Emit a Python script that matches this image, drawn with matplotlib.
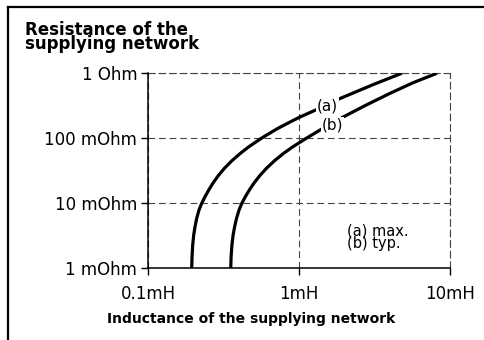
import matplotlib
matplotlib.use("Agg")
import matplotlib.pyplot as plt
from matplotlib.lines import Line2D

# ---- data (L in mH, R in Ohm) ----
curve_a_L = [0.194, 0.1950, 0.1969, 0.2000, 0.2040, 0.2093, 0.2169, 0.2259, 0.2377, 0.2527,
             0.2698, 0.2912, 0.3191, 0.3573, 0.4056, 0.4604, 0.5649, 0.7102, 0.870, 1.003,
             1.308, 1.867, 3.105, 4.787]
curve_a_R = [0.001, 0.001509, 0.002283, 0.003253, 0.004365, 0.005877, 0.007884, 0.01, 0.01264, 0.01631,
             0.02083, 0.02668, 0.03443, 0.04491, 0.05815, 0.07321, 0.1011, 0.139, 0.1781, 0.2104,
             0.2773, 0.4095, 0.6724, 1.0]
curve_b_L = [0.3519, 0.3540, 0.3584, 0.3650, 0.3735, 0.3845, 0.3995, 0.4169, 0.4398, 0.4697,
             0.5046, 0.5488, 0.6061, 0.6847, 0.7844, 0.9014, 1.123, 1.413, 1.964, 2.735,
             4.007, 5.692, 8.175]
curve_b_R = [0.001, 0.001509, 0.002283, 0.003253, 0.004365, 0.005877, 0.007884, 0.01, 0.01264, 0.01631,
             0.02083, 0.02668, 0.03443, 0.04491, 0.05815, 0.07321, 0.1011, 0.139, 0.2134, 0.3184,
             0.4924, 0.7167, 1.0]

x_ticks = [0.1, 1, 10]
x_tick_labels = ["0.1mH", "1mH", "10mH"]
y_ticks = [0.001, 0.01, 0.1, 1]
y_tick_labels = ["1 mOhm", "10 mOhm", "100 mOhm", "1 Ohm"]

W, H = 485, 340
fig = plt.figure(figsize=(W / 100, H / 100), dpi=100)
plt.rcParams['font.family'] = ['DejaVu Sans']

ax = fig.add_axes([148.3 / W, 1 - 268.3 / H, (450 - 148.3) / W, (268.3 - 73.3) / H])
ax.set_xscale('log')
ax.set_yscale('log')
ax.set_xlim(0.1, 10)
ax.set_ylim(0.001, 1)

ax.plot(curve_a_L, curve_a_R, color='black', lw=2.3, solid_capstyle='butt',
        solid_joinstyle='round', zorder=3)
ax.plot(curve_b_L, curve_b_R, color='black', lw=2.3, solid_capstyle='butt',
        solid_joinstyle='round', zorder=3)

ax.set_xticks(x_ticks)
ax.set_xticklabels(x_tick_labels)
ax.set_yticks(y_ticks)
ax.set_yticklabels(y_tick_labels)
ax.minorticks_off()
ax.tick_params(axis='both', direction='out', length=5, width=1, color='black',
               labelsize=12, labelcolor='black')
ax.tick_params(axis='y', pad=3)
ax.tick_params(axis='x', pad=7)

grid_dash = (6, 3.5)
ax.grid(True, which='major', color='#444444', lw=0.8, dashes=grid_dash)
for s in ['top', 'right']:
    ax.spines[s].set_color('#444444')
    ax.spines[s].set_linewidth(0.8)
    ax.spines[s].set_linestyle((0, grid_dash))
for s in ['left', 'bottom']:
    ax.spines[s].set_linewidth(1.1)
    ax.spines[s].set_color('black')
    ax.spines[s].set_zorder(5)

bb = dict(boxstyle='square,pad=0.06', fc='white', ec='none')
ax.text(1.538, 0.3175, "(a)", fontsize=11, ha='center', va='center', bbox=bb, zorder=4)
ax.text(1.670, 0.1603, "(b)", fontsize=11, ha='center', va='center', bbox=bb, zorder=4)

fig.text(346.7 / W, 1 - 248 / H, "(a) max.\n(b) typ.", fontsize=10.5, ha='left',
         va='baseline', linespacing=0.78)

fig.text(25 / W, 1 - 49.3 / H, "Resistance of the\nsupplying network", fontsize=12,
         fontweight='bold', ha='left', va='baseline', linespacing=0.74)
fig.text(251 / W, 1 - 319 / H, "Inductance of the supplying network", fontsize=10,
         fontweight='bold', ha='center', va='center')

# figure frame (left and top edges)
fig.add_artist(Line2D([8 / W, 8 / W], [0, 1 - 7 / H], color='black', lw=1.6,
                      transform=fig.transFigure, solid_capstyle='projecting'))
fig.add_artist(Line2D([8 / W, 1], [1 - 7 / H, 1 - 7 / H], color='black', lw=1.6,
                      transform=fig.transFigure, solid_capstyle='projecting'))

fig.savefig("out.png", dpi=100)
